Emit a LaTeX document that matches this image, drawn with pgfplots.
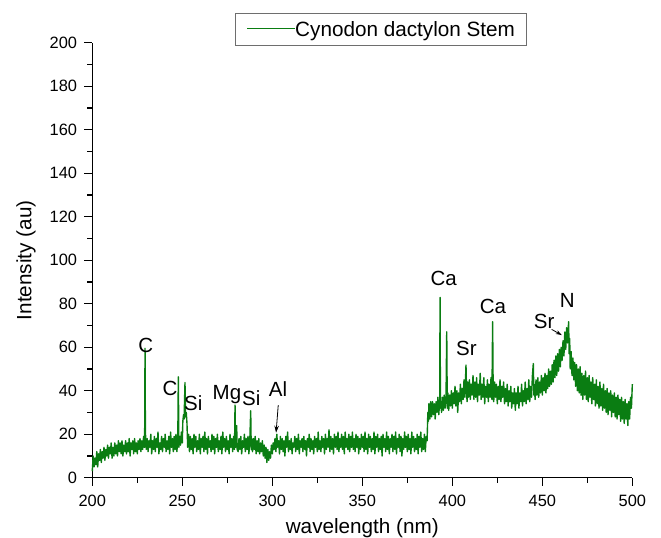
\documentclass[border=0pt]{standalone}
\usepackage{pgfplots}
\pgfplotsset{compat=1.18}
\usepackage{fontspec}
\setmainfont{Liberation Sans}
\usetikzlibrary{arrows.meta}
\definecolor{specgreen}{RGB}{10,125,18}
\definecolor{legframe}{RGB}{110,110,110}
\newcommand{\annfont}{\fontsize{20.5bp}{24bp}\selectfont}
\begin{document}
\begin{tikzpicture}
\begin{axis}[
  name=ax,
  scale only axis,
  width=540bp, height=435bp,
  xmin=200, xmax=500, ymin=0, ymax=200,
  axis x line*=bottom, axis y line*=left,
  axis line style={-, line width=1.3bp, black},
  xtick={200,250,...,500}, ytick={0,20,...,200},
  minor x tick num=1, minor y tick num=1,
  tick align=outside,
  major tick length=8bp, minor tick length=5bp,
  tick style={black, line width=1.2bp},
  /pgf/number format/assume math mode=true,
  tick label style={font=\fontsize{16.4bp}{19bp}\selectfont},
  xticklabel style={inner sep=0pt, anchor=north, yshift=-9bp},
  yticklabel style={inner sep=0pt, anchor=east, xshift=-7bp},
  xlabel={wavelength (nm)},
  ylabel={Intensity (au)},
  label style={font=\fontsize{20.7bp}{24bp}\selectfont, inner sep=0pt},
  xlabel style={at={(axis description cs:0.5,-0.128)}, anchor=base},
  ylabel style={at={(axis description cs:-0.1126,0.5)}, anchor=base, rotate=0},
  clip=false,
  legend image code/.code={\path (0bp,0bp) (0bp,15bp); \draw[#1, line width=1bp] (0bp,8bp) -- (47.7bp,8bp);},
  legend style={at={(axis description cs:0.534,1.069)}, anchor=north,
    draw=legframe, line width=0.8bp, inner xsep=11bp, inner ysep=7.5bp,
    font=\fontsize{20.7bp}{24bp}\selectfont,
    nodes={inner sep=0pt, anchor=base west}, column sep=0pt},
]
\addplot[specgreen, line width=1.4bp, line join=round] coordinates {
(200,3)(200.5,10)(201,5)(201.5,9)(202,6)(202.5,12)(203,5)(203.5,11)(204,8)(204.5,13)
(205,7)(205.5,12)(206,9)(206.5,14)(207,8)(207.5,13)(208,10)(208.5,15)(209,9)(209.5,14)
(210,11)(210.5,16)(211,9)(211.5,14)(212,10)(212.5,16)(213,11)(213.5,15)(214,10)(214.5,17)
(215,12)(215.5,16)(216,11)(216.5,17)(217,10)(217.5,15)(218,12)(218.5,17)(219,11)(219.5,16)
(220,12)(220.5,18)(221,10)(221.5,16)(222,13)(222.5,17)(223,11)(223.5,18)(224,12)(224.5,16)
(225,11)(225.5,17)(226,13)(226.5,18)(227,12)(227.5,17)(228,13)(228.5,19)(229,14)(229.1,20)
(229.3,59.5)(229.5,21)(230,13)(230.5,18)
(231,12)(231.5,17)(232,14)(232.5,20)(233,11)(233.5,17)(234,13)(234.5,19)(235,12)(235.5,18)
(236,14)(236.5,21)(237,11)(237.5,16)(238,13)(238.5,19)(239,12)(239.5,18)(240,14)(240.5,20)
(241,12)(241.5,17)(242,13)(242.5,19)(243,11)(243.5,21)(244,14)(244.5,18)(245,12)(245.5,19)
(246,13)(246.5,20)(247,12)(247.5,18)(247.8,46.4)(248.1,14)(248.5,19)(249,15)(249.5,21)
(250,16)(250.3,26)(250.7,29)(251,27)(251.5,43.7)(251.8,28)(252.2,30)(252.6,25)(253,14)
(253.5,20)(254,12)(254.5,19)(255,13)(255.5,18)(256,11)(256.5,20)
(257,14)(257.5,19)(258,12)(258.5,17)(259,13)(259.5,20)(260,11)(260.5,18)(261,14)(261.5,19)
(262,12)(262.5,21)(263,13)(263.5,18)(264,11)(264.5,19)(265,14)(265.5,17)(266,12)(266.5,20)
(267,13)(267.5,19)(268,11)(268.5,18)(269,14)(269.5,20)(270,12)(270.5,17)(271,13)(271.5,19)
(272,11)(272.5,21)(273,14)(273.5,18)(274,12)(274.5,19)(275,13)(275.5,17)(276,11)(276.5,20)
(277,14)(277.5,18)(278,12)(278.5,19)(279,13)(279.3,33.4)(279.6,14)(280.2,24)(280.5,13)
(281,12)(281.5,18)(282,13)(282.5,19)(283,11)(283.5,17)(284,14)(284.5,20)(285,12)(285.5,18)
(286,13)(286.5,19)(287,11)(287.5,17)(288,30.8)(288.3,13)(288.5,18)(289,12)(289.5,18)
(290,13)(290.5,19)(291,11)(291.5,17)(292,12)(292.5,18)(293,11)(293.5,16)(294,12)(294.5,17)
(295,10)(295.5,15)(296,9)(296.5,14)(297,7)(297.5,13)(298,8)(298.5,12)(299,9)(299.5,15)
(300,11)(300.5,16)(301,13)(301.5,18)(302,12)(302.5,20)(303,14)(303.5,17)(304,11)(304.5,19)
(305,13)(305.5,18)(306,12)(306.5,17)(307,10)(307.5,19)(308,14)(308.5,21)(309,12)(309.5,17)
(310,13)(310.5,18)(311,11)(311.5,16)(312,14)(312.5,19)(313,12)(313.5,18)(314,13)(314.5,20)
(315,11)(315.5,17)(316,14)(316.5,18)(317,12)(317.5,19)(318,13)(318.5,17)(319,10)(319.5,18)
(320,14)(320.5,20)(321,12)(321.5,18)(322,13)(322.5,17)(323,11)(323.5,19)(324,14)(324.5,18)
(325,12)(325.5,21)(326,13)(326.5,17)(327,12)(327.5,19)(328,14)(328.5,18)(329,11)(329.5,20)
(330,13)(330.5,18)(331,14)(331.5,22)(332,12)(332.5,19)(333,13)(333.5,18)(334,11)(334.5,20)
(335,14)(335.5,19)(336,13)(336.5,21)(337,12)(337.5,18)(338,14)(338.5,20)(339,13)(339.5,19)
(340,11)(340.5,21)(341,14)(341.5,18)(342,13)(342.5,20)(343,12)(343.5,19)(344,14)(344.5,21)
(345,13)(345.5,18)(346,12)(346.5,20)(347,14)(347.5,19)(348,11)(348.5,18)(349,13)(349.5,20)
(350,14)(350.5,19)(351,12)(351.5,21)(352,13)(352.5,18)(353,11)(353.5,20)(354,14)(354.5,19)
(355,12)(355.5,18)(356,13)(356.5,21)(357,11)(357.5,19)(358,14)(358.5,20)(359,12)(359.5,18)
(360,13)(360.5,19)(361,10)(361.5,20)(362,14)(362.5,18)(363,12)(363.5,21)(364,13)(364.5,19)
(365,11)(365.5,18)(366,14)(366.5,20)(367,12)(367.5,19)(368,13)(368.5,21)(369,11)(369.5,18)
(370,14)(370.5,20)(371,12)(371.5,19)(372,10)(372.5,18)(373,13)(373.5,21)(374,14)(374.5,19)
(375,12)(375.5,20)(376,13)(376.5,18)(377,11)(377.5,21)(378,14)(378.5,19)(379,12)(379.5,18)
(380,13)(380.5,20)(381,11)(381.5,19)(382,14)(382.5,21)(383,12)(383.5,18)(384,13)(384.5,20)
(385,12)(385.5,19)(386,17)(386.4,30)(386.7,26)(387,34)(387.5,27)(388,35)(388.5,28)(389,35)
(389.5,29)(390,34)(390.5,27)(391,35)(391.5,30)(392,37)(392.5,29)(393,36)(393.2,82.9)
(393.4,32)(393.8,34)(394,30)(394.5,37)(395,31)(395.5,38)(396,32)(396.5,36)(396.9,67.1)
(397.2,32)(397.5,39)(398,31)(398.5,38)(399,33)(399.5,40)(400,32)(400.5,39)(401,34)(401.5,42)
(402,33)(402.5,40)(403,30)(403.5,39)(404,35)(404.5,43)(405,34)(405.5,41)(406,36)(406.5,45)
(407,37)(407.6,51.8)(407.9,40)(408.2,35)(408.5,44)(409,37)(409.5,45)(410,36)(410.5,43)
(411,38)(411.5,47)(412,36)(412.5,44)(413,37)(413.5,46)(414,35)(414.5,43)(415,38)(415.5,48)
(416,36)(416.5,43)(417,37)(417.5,46)(418,34)(418.5,42)(419,37)(419.5,45)(420,35)(420.5,43)
(421,37)(421.5,46)(422,36)(422.4,71.7)(422.7,40)(423,35)(423.5,44)(424,37)(424.5,43)
(425,34)(425.5,42)(426,36)(426.5,45)(427,35)(427.5,42)(428,37)(428.5,44)(429,34)(429.5,41)
(430,35)(430.5,43)(431,33)(431.5,40)(432,35)(432.5,42)(433,32)(433.5,39)(434,34)(434.5,41)
(435,31)(435.5,39)(436,34)(436.5,42)(437,32)(437.5,39)(438,35)(438.5,43)(439,33)(439.5,40)
(440,35)(440.5,44)(441,34)(441.5,41)(442,36)(442.5,45)(443,35)(443.5,42)(444,37)(444.5,47)
(445,52.5)(445.3,38)(445.5,43)(446,36)(446.5,45)(447,38)(447.5,46)(448,37)(448.5,44)
(449,39)(449.5,47)(450,38)(450.5,46)(451,40)(451.5,48)(452,39)(452.5,47)(453,41)(453.5,50)
(454,42)(454.5,49)(455,43)(455.5,52)(456,44)(456.5,54)(457,46)(457.5,56)(458,47)(458.5,57)
(459,49)(459.5,59)(460,51)(460.5,60)(461,54)(461.5,63)(462,56)(462.5,67)(463,59)(463.5,69)
(464,62)(464.6,71.7)(464.9,57)(465.2,64)(465.5,50)(466,58)(466.5,47)(467,55)(467.5,45)
(468,53)(468.5,42)(469,52)(469.5,40)(470,50)(470.5,39)(471,51)(471.5,38)(472,48)(472.5,36)
(473,47)(473.5,38)(474,49)(474.5,36)(475,46)(475.5,35)(476,47)(476.5,37)(477,44)(477.5,34)
(478,46)(478.5,36)(479,43)(479.5,33)(480,45)(480.5,34)(481,42)(481.5,32)(482,44)(482.5,33)
(483,41)(483.5,31)(484,43)(484.5,32)(485,40)(485.5,30)(486,41)(486.5,29)(487,39)(487.5,31)
(488,40)(488.5,28)(489,38)(489.5,30)(490,39)(490.5,28)(491,37)(491.5,27)(492,38)(492.5,29)
(493,36)(493.5,26)(494,37)(494.5,27)(495,35)(495.5,25)(496,36)(496.5,27)(497,34)(497.5,24)
(498,35)(498.5,27)(499,37)(499.5,32)(500,43)
};
\addlegendentry{Cynodon dactylon Stem}
\node[font=\annfont, anchor=base, inner sep=0pt] at (axis cs:229.7,57.7) {C};
\node[font=\annfont, anchor=base, inner sep=0pt] at (axis cs:243.2,37.7) {C};
\node[font=\annfont, anchor=base, inner sep=0pt] at (axis cs:256.1,31.1) {Si};
\node[font=\annfont, anchor=base, inner sep=0pt] at (axis cs:274.8,36.0) {Mg};
\node[font=\annfont, anchor=base, inner sep=0pt] at (axis cs:288.3,33.4) {Si};
\node[font=\annfont, anchor=base, inner sep=0pt] at (axis cs:303.2,37.2) {Al};
\draw[-{Stealth[length=7bp,width=4.5bp]}, line width=0.8bp, black] (axis cs:303.3,33.4) -- (axis cs:302.1,20.7);
\node[font=\annfont, anchor=base, inner sep=0pt] at (axis cs:395.2,88.6) {Ca};
\node[font=\annfont, anchor=base, inner sep=0pt] at (axis cs:407.8,56.1) {Sr};
\node[font=\annfont, anchor=base, inner sep=0pt] at (axis cs:422.6,75.6) {Ca};
\node[font=\annfont, anchor=base, inner sep=0pt] at (axis cs:463.9,78.3) {N};
\node[font=\annfont, anchor=base, inner sep=0pt] at (axis cs:451.0,68.7) {Sr};
\draw[-{Stealth[length=6bp,width=4bp]}, line width=0.8bp, black] (axis cs:455.2,68.2) -- (axis cs:460.8,65.6);
\coordinate (bbl) at (rel axis cs:-0.1709,-0.1363);
\coordinate (btr) at (rel axis cs:1.0531,1.0982);
\end{axis}
\pgfresetboundingbox
\path[use as bounding box] (bbl) rectangle (btr);
\end{tikzpicture}
\end{document}
